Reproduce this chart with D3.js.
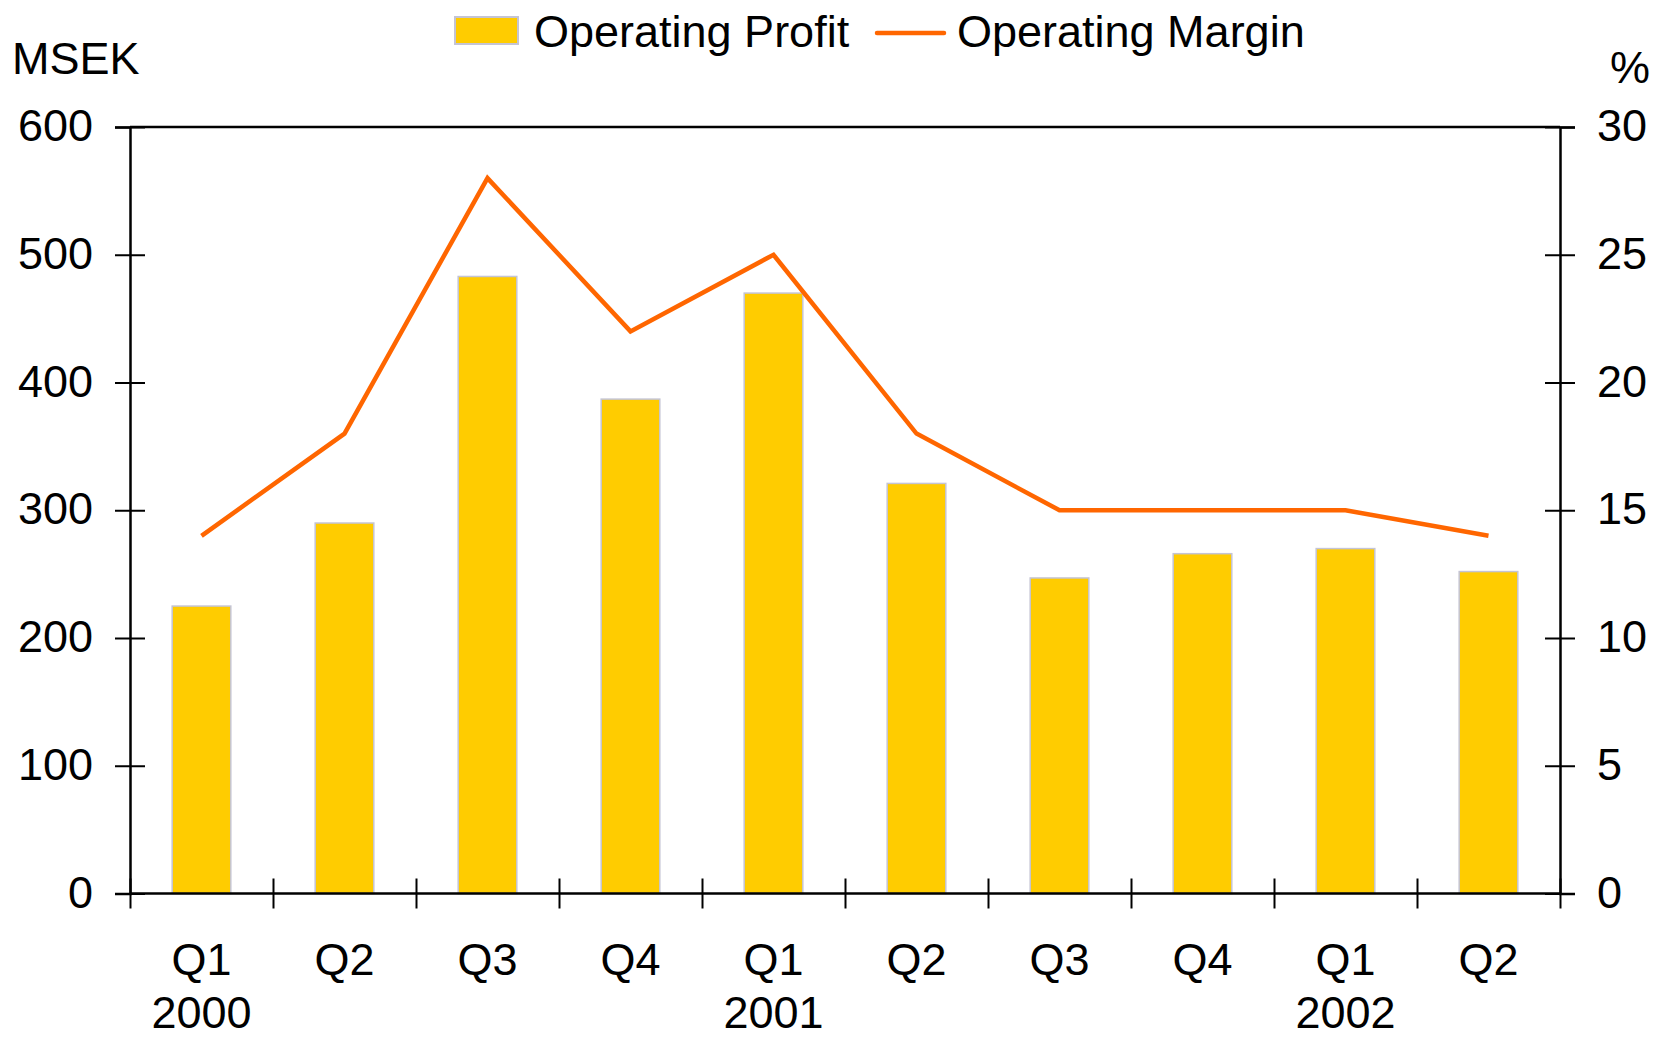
<!DOCTYPE html>
<html>
<head>
<meta charset="utf-8">
<script src="https://cdn.jsdelivr.net/npm/d3@7"></script>
<style>
  body { margin: 0; background: #fff; }
  text { font-family: "Liberation Sans", Arial, sans-serif; fill: #000; }
</style>
</head>
<body>
<div id="chart"></div>
<script>
// data
const quarters = ["Q1", "Q2", "Q3", "Q4", "Q1", "Q2", "Q3", "Q4", "Q1", "Q2"];
const years = ["2000", "", "", "", "2001", "", "", "", "2002", ""];
const profit = [225, 290, 483, 387, 470, 321, 247, 266, 270, 252];
const margin = [14, 18, 28, 22, 25, 18, 15, 15, 15, 14];
const leftTicks = [0, 100, 200, 300, 400, 500, 600];
const rightTicks = [0, 5, 10, 15, 20, 25, 30];

const W = 1658, H = 1038;
const margin_ = {top: 127, right: 98, bottom: 144.5, left: 130};
const width = W - margin_.left - margin_.right;
const height = H - margin_.top - margin_.bottom;
const fs = 45;

const svg = d3.select("#chart")
  .append("svg")
    .attr("width", W)
    .attr("height", H);

const g = svg.append("g")
  .attr("transform", `translate(${margin_.left}, ${margin_.top})`);

const idx = d3.range(profit.length);

// scales
const x = d3.scaleBand()
  .domain(idx)
  .range([0, width])
  .paddingInner(0.59)
  .paddingOuter(0.295);
const xLin = d3.scaleLinear().domain([0, profit.length]).range([0, width]);
const y = d3.scaleLinear().domain([0, 600]).range([height, 0]);
const y2 = d3.scaleLinear().domain([0, 30]).range([height, 0]);
const xc = i => xLin(i + 0.5);

// bars
g.selectAll(".bar")
  .data(idx)
  .join("rect")
    .attr("class", "bar")
    .attr("x", i => x(i))
    .attr("y", i => y(profit[i]))
    .attr("width", x.bandwidth())
    .attr("height", i => height - y(profit[i]))
    .style("fill", "#FFCC00")
    .style("stroke", "#C4C4D4")
    .style("stroke-width", 1.5);

// top frame line
g.append("line")
  .attr("x1", 0).attr("x2", width)
  .attr("y1", 0).attr("y2", 0)
  .style("stroke", "#000").style("stroke-width", 2.5);

// left axis
const axL = g.append("g")
  .call(d3.axisLeft(y).tickValues(leftTicks).tickSize(15).tickPadding(22));
axL.selectAll(".tick line").attr("x2", -15).attr("x1", 15);
// right axis
const axR = g.append("g")
  .attr("transform", `translate(${width}, 0)`)
  .call(d3.axisRight(y2).tickValues(rightTicks).tickSize(15).tickPadding(22));
axR.selectAll(".tick line").attr("x1", -15).attr("x2", 15);
// bottom axis ticks at category boundaries
const axB = g.append("g")
  .attr("transform", `translate(0, ${height})`)
  .call(d3.axisBottom(xLin).tickValues(d3.range(profit.length + 1)).tickFormat("").tickSize(15));
axB.selectAll(".tick line").attr("y1", -15).attr("y2", 15);

[axL, axR, axB].forEach(a => {
  a.selectAll(".domain").attr("stroke", "#000").attr("stroke-width", 2.5);
  a.selectAll(".tick line").attr("stroke", "#000").attr("stroke-width", 2);
  a.selectAll("text").style("font-size", fs + "px").style("font-family", "Liberation Sans, Arial, sans-serif").attr("fill", "#000");
});
axL.selectAll(".tick text").attr("dy", "0.3em");
axR.selectAll(".tick text").attr("dy", "0.3em");
axB.select(".domain").attr("d", `M0,0H${width}`);

// category labels
g.selectAll(".qlab")
  .data(idx)
  .join("text")
    .attr("class", "qlab")
    .attr("x", i => xc(i))
    .attr("y", height + 81)
    .attr("text-anchor", "middle")
    .style("font-size", fs + "px")
    .text(i => quarters[i]);
g.selectAll(".ylab")
  .data(idx.filter(i => years[i]))
  .join("text")
    .attr("class", "ylab")
    .attr("x", i => xc(i))
    .attr("y", height + 134)
    .attr("text-anchor", "middle")
    .style("font-size", fs + "px")
    .text(i => years[i]);

// margin line
const line = d3.line()
  .x(i => xc(i))
  .y(i => y2(margin[i]));
g.append("path")
  .datum(idx)
  .attr("d", line)
  .style("fill", "none")
  .style("stroke", "#FF6600")
  .style("stroke-width", 4.5)
  .style("stroke-linejoin", "miter");

// unit labels
svg.append("text")
  .attr("x", 12).attr("y", 74)
  .style("font-size", fs + "px")
  .text("MSEK");
svg.append("text")
  .attr("x", 1650).attr("y", 83)
  .attr("text-anchor", "end")
  .style("font-size", fs + "px")
  .text("%");

// legend
const leg = svg.append("g");
leg.append("rect")
  .attr("x", 455).attr("y", 17)
  .attr("width", 63).attr("height", 27)
  .style("fill", "#FFCC00")
  .style("stroke", "#C4C4D4")
  .style("stroke-width", 2);
leg.append("text")
  .attr("x", 534).attr("y", 47)
  .style("font-size", fs + "px")
  .text("Operating Profit");
leg.append("line")
  .attr("x1", 877).attr("x2", 944)
  .attr("y1", 33).attr("y2", 33)
  .style("stroke", "#FF6600")
  .style("stroke-width", 4.5)
  .style("stroke-linecap", "round");
leg.append("text")
  .attr("x", 957).attr("y", 47)
  .style("font-size", fs + "px")
  .text("Operating Margin");
</script>
</body>
</html>
